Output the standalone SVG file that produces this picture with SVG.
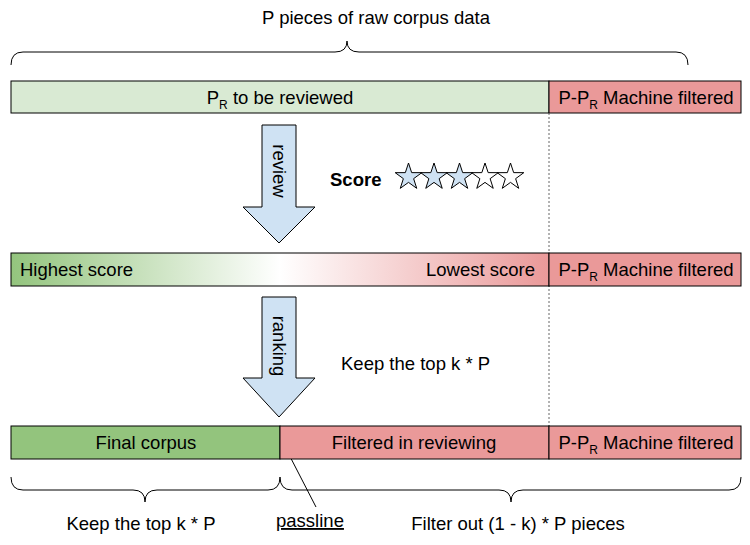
<svg xmlns="http://www.w3.org/2000/svg" width="750" height="545" viewBox="0 0 750 545">
<style>
text{font-family:"Liberation Sans",Arial,sans-serif;font-size:18.5px;fill:#000}
.c{text-anchor:middle}
.sub{font-size:12px}
.box{stroke:#000;stroke-width:1}
.brace{fill:none;stroke:#000;stroke-width:1}
.arrow{fill:#cfe2f3;stroke:#000;stroke-width:1}
.star{stroke:#000;stroke-width:1}
</style>
<defs>
<linearGradient id="grad" x1="11" y1="0" x2="549" y2="0" gradientUnits="userSpaceOnUse">
<stop offset="0" stop-color="#93c47d"/>
<stop offset="0.5" stop-color="#ffffff"/>
<stop offset="1" stop-color="#ea9999"/>
</linearGradient>
<marker id="ah" markerWidth="8" markerHeight="8" refX="7" refY="4" orient="auto" markerUnits="userSpaceOnUse">
<path d="M0,0 L8,4 L0,8 Z" fill="#000"/>
</marker>
<path id="star" d="M0,-14 L3.17,-4.36 L13.31,-4.33 L5.13,1.67 L8.23,11.33 L0,5.39 L-8.23,11.33 L-5.13,1.67 L-13.31,-4.33 L-3.17,-4.36 Z"/>
</defs>

<g id="title">
<text x="262" y="24">P pieces of raw corpus data</text>
</g>
<g id="brace-top">
<path class="brace" d="M11,65 Q11,52 23,52 L335,52 Q347,52 347,41 Q347,52 359,52 L676,52 Q688,52 688,65"/>
</g>

<g id="row1">
<rect class="box" x="11" y="81" width="538" height="32" fill="#d9ead3"/>
<rect class="box" x="549" y="81" width="192" height="32" fill="#ea9999"/>
<text class="c" x="280" y="104">P<tspan class="sub" dy="5">R</tspan><tspan dy="-5"> to be reviewed</tspan></text>
<text class="c" x="646" y="104">P-P<tspan class="sub" dy="5">R</tspan><tspan dy="-5"> Machine filtered</tspan></text>
</g>

<g id="connectors">
<line x1="549" y1="113" x2="549" y2="426" stroke="#666" stroke-width="1" stroke-dasharray="2,2"/>
<line x1="316" y1="507" x2="282" y2="441" stroke="#000" stroke-width="1" marker-end="url(#ah)"/>
</g>

<g id="review-arrow">
<path class="arrow" d="M262,125 L296,125 L296,207 L315,207 L279,243 L243,207 L262,207 Z"/>
<text class="c" transform="translate(279,171) rotate(90)" x="0" y="6">review</text>
</g>

<g id="score">
<text x="330" y="186" style="font-weight:bold">Score</text>
<use href="#star" x="408.5" y="177" class="star" fill="#cfe2f3"/>
<use href="#star" x="434" y="177" class="star" fill="#cfe2f3"/>
<use href="#star" x="459.5" y="177" class="star" fill="#cfe2f3"/>
<use href="#star" x="485" y="177" class="star" fill="#ffffff"/>
<use href="#star" x="510.5" y="177" class="star" fill="#ffffff"/>
</g>

<g id="row2">
<rect class="box" x="11" y="253" width="538" height="33" fill="url(#grad)"/>
<rect class="box" x="549" y="253" width="192" height="33" fill="#ea9999"/>
<text x="20" y="276">Highest score</text>
<text x="535" y="276" style="text-anchor:end">Lowest score</text>
<text class="c" x="646" y="276">P-P<tspan class="sub" dy="5">R</tspan><tspan dy="-5"> Machine filtered</tspan></text>
</g>

<g id="ranking-arrow">
<path class="arrow" d="M262,297 L296,297 L296,378 L315,378 L279,417 L243,378 L262,378 Z"/>
<text class="c" transform="translate(279,346) rotate(90)" x="0" y="6">ranking</text>
</g>

<g id="keep-mid">
<text x="341" y="370">Keep the top k * P</text>
</g>

<g id="row3">
<rect class="box" x="11" y="426" width="269" height="33" fill="#93c47d"/>
<rect class="box" x="280" y="426" width="269" height="33" fill="#ea9999"/>
<rect class="box" x="549" y="426" width="192" height="33" fill="#ea9999"/>
<text class="c" x="146" y="449">Final corpus</text>
<text class="c" x="414" y="449">Filtered in reviewing</text>
<text class="c" x="646" y="449">P-P<tspan class="sub" dy="5">R</tspan><tspan dy="-5"> Machine filtered</tspan></text>
</g>

<g id="brace-bottom-left">
<path class="brace" d="M11,477 Q11,490 23,490 L133,490 Q145,490 145,502 Q145,490 157,490 L268,490 Q280,490 280,477"/>
</g>
<g id="brace-bottom-right">
<path class="brace" d="M280,477 Q280,490 292,490 L499,490 Q511,490 511,502 Q511,490 523,490 L729,490 Q741,490 741,477"/>
</g>

<g id="bottom-labels">
<text class="c" x="141" y="530">Keep the top k * P</text>
<text class="c" x="310" y="527" style="text-decoration:underline">passline</text>
<text class="c" x="518" y="530">Filter out (1 - k) * P pieces</text>
</g>
</svg>
